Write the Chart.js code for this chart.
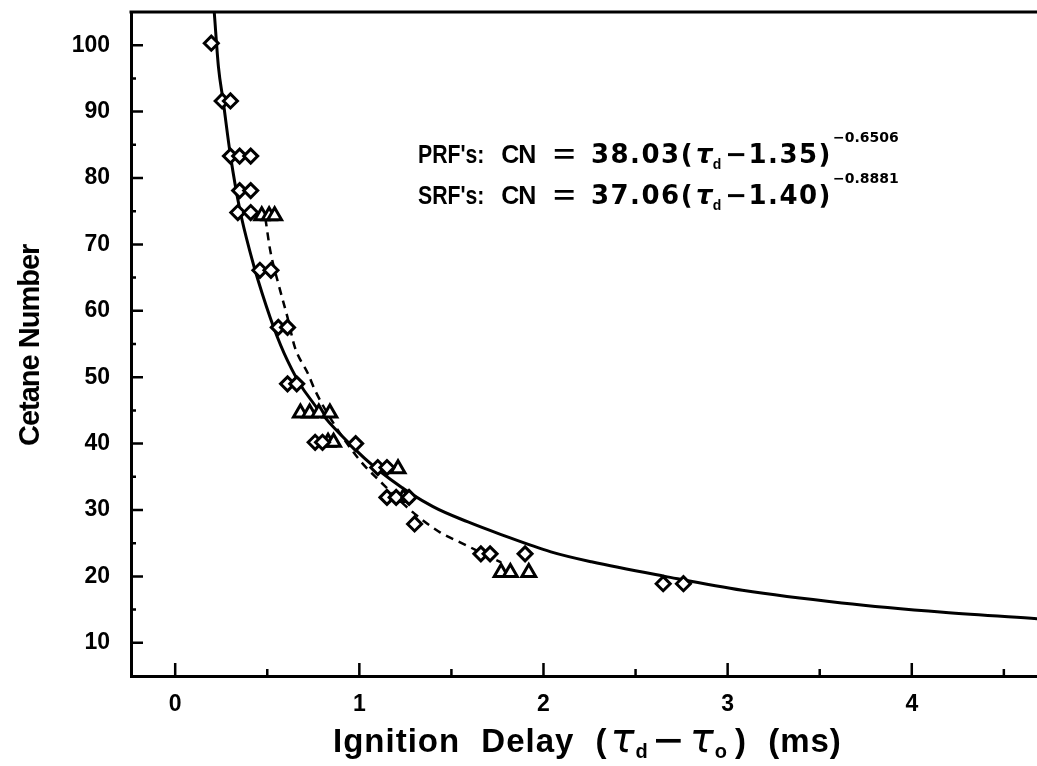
<!DOCTYPE html>
<html>
<head>
<meta charset="utf-8">
<script src="https://cdn.jsdelivr.net/npm/chart.js@4.4.1/dist/chart.umd.min.js"></script>
<style>
  html, body { margin: 0; padding: 0; background: #fff; }
  #wrap { position: relative; width: 1037px; height: 766px; overflow: hidden; }
  canvas { position: absolute; left: 0; top: 0; }
  .txt { position: absolute; font-family: "Liberation Sans", Arial, sans-serif; font-weight: bold; color: #000; white-space: pre; line-height: 1; }
  .txt span { line-height: 0; }
  .eq { font-size: 25px; }
  .eq .lab { display: inline-block; transform-origin: 0 50%; transform: scaleX(0.85); margin-right: -12px; }
  .eq .cn { letter-spacing: -1px; margin-left: 17px; }
  .eq .eqs { display: inline-block; transform: scaleX(1.5); margin-left: 22px; margin-right: 19px; }
  .eq .num { font-family: "DejaVu Sans", sans-serif; font-size: 26px; letter-spacing: 1.5px; }
  .eq .tau { font-family: "DejaVu Sans", sans-serif; font-style: italic; font-weight: bold; font-size: 26px; margin-left: 2px; }
  .eq .sb { font-size: 14px; position: relative; top: 6px; margin-right: 4px; }
  .eq .sp { font-family: "DejaVu Sans", sans-serif; font-size: 14px; position: relative; top: -21px; letter-spacing: 0px; margin-left: 1px; }
  #xtitle { font-size: 33px; letter-spacing: 1px; word-spacing: 11px; }
  #xtitle .tau { font-family: "DejaVu Sans", sans-serif; font-style: italic; font-weight: normal; font-size: 40px; margin-left: 3px; }
  #xtitle .sb { font-size: 20px; position: relative; top: 6px; margin-right: 3px; }
  #xtitle .mn { display: inline-block; font-size: 34px; transform: scaleX(1.45); margin: 0 7px; }
  #xtitle .cp { margin-left: 4px; }
  #ytitle { font-size: 29px; letter-spacing: -1px; transform-origin: 0 0; transform: rotate(-90deg); }
</style>
</head>
<body>
<div id="wrap">
  <canvas id="c" width="1037" height="766"></canvas>
  <div class="txt eq" id="eq1" style="left:418px; top:142px;"><span class="lab">PRF's:</span><span class="cn">CN</span><span class="eqs">=</span><span class="num">38.03(</span><span class="tau">τ</span><span class="sb">d</span><span class="num">−1.35)</span><span class="sp">−0.6506</span></div>
  <div class="txt eq" id="eq2" style="left:418px; top:183px;"><span class="lab">SRF's:</span><span class="cn">CN</span><span class="eqs">=</span><span class="num">37.06(</span><span class="tau">τ</span><span class="sb">d</span><span class="num">−1.40)</span><span class="sp">−0.8881</span></div>
  <div class="txt" id="xtitle" style="left:333px; top:724px;">Ignition Delay (<span class="tau">τ</span><span class="sb">d</span><span class="mn">−</span><span class="tau">τ</span><span class="sb">o</span><span class="cp">)</span> (ms)</div>
  <div class="txt" id="ytitle" style="left:15px; top:446px;">Cetane Number</div>
</div>
<script>
// ---- Data ----
// PRF's (diamonds)
const prfX = [0.196, 0.255, 0.30, 0.30, 0.35, 0.41, 0.35, 0.41, 0.34, 0.41, 0.46, 0.52, 0.56, 0.61, 0.61, 0.66, 0.76, 0.80, 0.98, 1.10, 1.15, 1.15, 1.20, 1.27, 1.30, 1.66, 1.71, 1.90, 2.65, 2.76];
const prfY = [100.3, 91.6, 91.6, 83.3, 83.3, 83.3, 78.1, 78.1, 74.8, 74.8, 66.1, 66.1, 57.5, 57.5, 49.0, 49.0, 40.2, 40.2, 40.0, 36.4, 36.4, 31.9, 31.9, 31.9, 27.9, 23.4, 23.4, 23.4, 18.9, 18.9];
// SRF's (triangles)
const srfX = [0.47, 0.51, 0.54, 0.68, 0.73, 0.78, 0.84, 0.83, 0.86, 1.21, 1.24, 1.77, 1.82, 1.92];
const srfY = [74.3, 74.3, 74.3, 44.6, 44.6, 44.6, 44.6, 40.2, 40.2, 36.2, 31.9, 20.6, 20.6, 20.6];
// PRF fit curve (solid)
const prfFitX = [0.212, 0.235, 0.26, 0.30, 0.352, 0.41, 0.45, 0.535, 0.61, 0.70, 0.99, 1.17, 1.40, 1.59, 1.77, 2.04, 2.26, 2.66, 3.08, 3.62, 4.17, 4.70];
const prfFitY = [105, 96.7, 91.7, 83.4, 75.1, 68.5, 64.6, 57.5, 52.5, 48.0, 38.8, 34.6, 30.5, 28.2, 26.3, 23.7, 22.2, 20.0, 17.9, 16.0, 14.6, 13.6];
// SRF fit curve (dashed)
const srfFitX = [0.49, 0.516, 0.56, 0.61, 0.65, 0.72, 0.76, 0.85, 1.005, 1.11, 1.28, 1.44, 1.55, 1.77];
const srfFitY = [73.9, 69.1, 64.1, 59.0, 54.5, 50.6, 48.0, 43.5, 37.4, 34.4, 29.9, 26.6, 25.1, 22.1];
// Axis ticks
const xTickValues = [0, 1, 2, 3, 4];
const xTickLabels = ['0', '1', '2', '3', '4'];
const xMinorTicks = [0.5, 1.5, 2.5, 3.5, 4.5];
const yTickValues = [10, 20, 30, 40, 50, 60, 70, 80, 90, 100];
const yTickLabels = ['10', '20', '30', '40', '50', '60', '70', '80', '90', '100'];
const yMinorTicks = [15, 25, 35, 45, 55, 65, 75, 85, 95];

const pts = (xs, ys) => xs.map((v, i) => ({ x: v, y: ys[i] }));

const frame = {
  id: 'frame',
  afterDraw(chart) {
    const { ctx, chartArea: { left, right, top, bottom }, scales: { x, y } } = chart;
    ctx.save();
    ctx.strokeStyle = '#000';
    ctx.lineWidth = 3;
    ctx.beginPath();
    ctx.moveTo(left - 1.5, top);
    ctx.lineTo(right, top);
    ctx.stroke();
    ctx.lineWidth = 2.5;
    ctx.beginPath();
    xTickValues.forEach(v => { const p = x.getPixelForValue(v); ctx.moveTo(p, bottom); ctx.lineTo(p, bottom - 13); });
    xMinorTicks.forEach(v => { const p = x.getPixelForValue(v); ctx.moveTo(p, bottom); ctx.lineTo(p, bottom - 7); });
    yTickValues.forEach(v => { const p = y.getPixelForValue(v); ctx.moveTo(left, p); ctx.lineTo(left + 12, p); });
    yMinorTicks.forEach(v => { const p = y.getPixelForValue(v); ctx.moveTo(left, p); ctx.lineTo(left + 5, p); });
    ctx.stroke();
    ctx.restore();
  }
};

const tickFont = { family: '"Liberation Sans", Arial, sans-serif', size: 23, weight: 'bold' };

new Chart(document.getElementById('c'), {
  type: 'scatter',
  data: {
    datasets: [
      { label: "PRF's", data: pts(prfX, prfY), pointStyle: 'rectRot', pointRadius: 7, pointBorderWidth: 3,
        pointBorderColor: '#000', pointBackgroundColor: '#fff', showLine: false },
      { label: "SRF's", data: pts(srfX, srfY), pointStyle: 'triangle', pointRadius: 8, pointBorderWidth: 3,
        pointBorderColor: '#000', pointBackgroundColor: '#fff', showLine: false },
      { label: "PRF fit", data: pts(prfFitX, prfFitY), showLine: true, pointRadius: 0, borderColor: '#000',
        borderWidth: 3, cubicInterpolationMode: 'monotone', fill: false },
      { label: "SRF fit", data: pts(srfFitX, srfFitY), showLine: true, pointRadius: 0, borderColor: '#000',
        borderWidth: 2.5, borderDash: [8, 6], cubicInterpolationMode: 'monotone', fill: false }
    ]
  },
  options: {
    responsive: false,
    devicePixelRatio: 1,
    animation: false,
    layout: { autoPadding: false, padding: { top: 12, right: 0, left: 0, bottom: 0 } },
    plugins: { legend: { display: false }, tooltip: { enabled: false } },
    scales: {
      x: {
        type: 'linear', min: -0.24, max: 4.68,
        afterBuildTicks: s => { s.ticks = xTickValues.map(v => ({ value: v })); },
        afterFit: s => { s.height = 90; s.paddingLeft = 0; s.paddingRight = 0; },
        ticks: { callback: (v) => xTickLabels[xTickValues.indexOf(v)], font: tickFont, color: '#000', padding: 15, maxRotation: 0, autoSkip: false },
        grid: { display: false, drawTicks: false },
        border: { display: true, color: '#000', width: 3 }
      },
      y: {
        type: 'linear', min: 5, max: 105,
        afterBuildTicks: s => { s.ticks = yTickValues.map(v => ({ value: v })); },
        afterFit: s => { s.width = 131; s.paddingTop = 0; s.paddingBottom = 0; },
        ticks: { callback: (v) => yTickLabels[yTickValues.indexOf(v)], font: tickFont, color: '#000', padding: 21, autoSkip: false },
        grid: { display: false, drawTicks: false },
        border: { display: true, color: '#000', width: 3 }
      }
    }
  },
  plugins: [frame]
});
</script>
</body>
</html>
